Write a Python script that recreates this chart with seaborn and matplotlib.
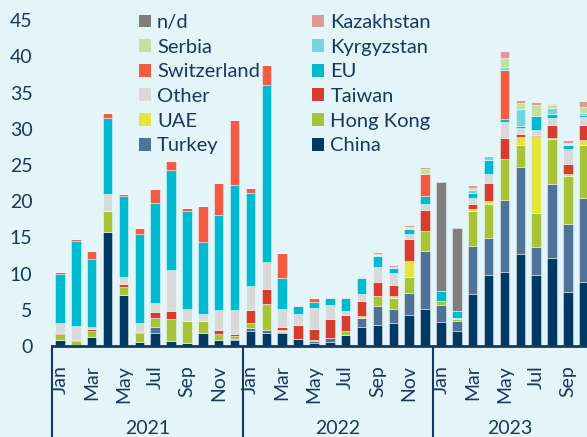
import numpy as np
import pandas as pd
import matplotlib.pyplot as plt
import seaborn as sns
from matplotlib.patches import Patch
from matplotlib.lines import Line2D

# monthly values, Jan 2021 .. Oct 2023
months = ["Jan", "Feb", "Mar", "Apr", "May", "Jun",
          "Jul", "Aug", "Sep", "Oct", "Nov", "Dec"] * 2 + \
         ["Jan", "Feb", "Mar", "Apr", "May", "Jun", "Jul", "Aug", "Sep", "Oct"]
years = ["2021", "2022", "2023"]

china = [0.87, 0.1, 1.2, 15.72, 7.1, 0.6, 1.84, 0.65, 0.46, 1.84, 0.87, 0.87,
         2.12, 1.84, 1.84, 1.01, 0.46, 0.6, 1.48, 2.63, 2.86, 3.14, 4.33, 5.12,
         3.36, 2.12, 7.23, 9.78, 10.19, 12.68, 9.82, 12.13, 7.51, 8.9]
turkey = [0, 0, 0, 0, 0, 0, 0.79, 0.1, 0, 0, 0, 0.1,
          0.41, 0.42, 0.1, 0, 0.23, 0.55, 0.1, 1.29, 2.72, 1.98, 3.04, 8.06,
          2.27, 1.38, 6.64, 5.2, 9.96, 11.98, 3.92, 10.23, 9.36, 11.5]
hong_kong = [0.83, 0.55, 0.92, 2.95, 1.06, 1.2, 1.24, 2.98, 3.0, 1.62, 0.83, 0.41,
             0.69, 3.55, 0.2, 0, 0.1, 0, 0.49, 0, 1.34, 1.56, 2.21, 2.68,
             0.55, 0.28, 4.8, 4.7, 5.71, 3.14, 4.7, 6.23, 6.55, 7.4]
uae = [0, 0, 0, 0, 0, 0, 0, 0, 0, 0, 0, 0,
       0, 0, 0.07, 0, 0, 0, 0, 0.23, 0, 0.28, 2.22, 0,
       0.1, 0.1, 0.23, 0.37, 0, 1.1, 10.51, 0.15, 0.28, 0.6]
taiwan = [0.1, 0.18, 0.18, 0, 0.42, 0.1, 0.88, 1.16, 0, 0, 0.56, 0.23,
          1.76, 2.12, 0.42, 1.85, 1.56, 2.58, 2.17, 2.12, 1.89, 1.48, 2.96, 2.94,
          0, 0, 0.74, 2.4, 2.91, 0.33, 0.15, 1.83, 1.38, 2.17]
other = [1.38, 1.89, 0.28, 2.26, 0.92, 1.28, 1.2, 5.61, 1.7, 0.97, 2.67, 3.39,
         3.27, 3.65, 2.44, 1.52, 2.91, 1.9, 0.6, 0.96, 2.07, 1.61, 0.73, 0.88,
         0, 0, 0.74, 1.3, 2.21, 0.87, 0.68, 0.93, 2.17, 1.01]
eu = [6.82, 11.78, 9.42, 10.57, 11.2, 12.32, 13.78, 13.8, 13.51, 10.0, 13.17, 17.3,
      12.82, 24.42, 4.29, 1.2, 0.83, 1.05, 1.76, 2.17, 1.52, 0.7, 0.69, 1.11,
      1.28, 1.01, 0.69, 1.93, 0.42, 0.33, 1.94, 0.5, 0.51, 0.32]
switzerland = [0.2, 0.26, 1.1, 0.7, 0.23, 0.8, 1.94, 1.2, 0.33, 4.93, 4.35, 8.87,
               0.69, 2.77, 3.46, 0, 0.59, 0, 0, 0, 0, 0, 0, 3.04,
               0, 0, 0, 0, 6.77, 0, 0, 0, 0, 0]
kyrgyzstan = [0] * 19 + [0.1, 0.15, 0.15, 0.15, 0,
                         0, 0, 0.42, 0.5, 0.33, 2.37, 0, 0.92, 0.15, 0.3]
serbia = [0] * 19 + [0.1, 0.15, 0, 0.15, 0.65,
                     0, 0, 0.27, 0, 1.3, 0.77, 1.58, 0.32, 0.1, 0.8]
kazakhstan = [0] * 15 + [0.1, 0, 0.07, 0.22, 0.1, 0.26, 0.3, 0.27, 0.28,
                         0, 0, 0.46, 0.1, 0.9, 0.43, 0.4, 0.14, 0.39, 0.85]
n_d = [0] * 24 + [15.08, 11.48] + [0] * 8

series = {
    "China": china, "Turkey": turkey, "Hong Kong": hong_kong, "UAE": uae,
    "Taiwan": taiwan, "Other": other, "EU": eu, "Switzerland": switzerland,
    "Kyrgyzstan": kyrgyzstan, "Serbia": serbia, "Kazakhstan": kazakhstan,
    "n/d": n_d,
}
colors = {
    "China": "#003A63", "Turkey": "#4E7396", "Hong Kong": "#A7C439",
    "UAE": "#E5E53F", "Taiwan": "#D53D2E", "Other": "#D9D9D9",
    "EU": "#00BBD0", "Switzerland": "#F25C43", "Kyrgyzstan": "#73D5E0",
    "Serbia": "#C4E09D", "Kazakhstan": "#DD9A97", "n/d": "#7F7F7F",
}

rows = []
for name, vals in series.items():
    for i, v in enumerate(vals):
        rows.append({"idx": i, "country": name, "value": v})
df = pd.DataFrame(rows)

bg = "#E3F5F9"
navy = "#18385C"

sns.set_theme(style="white")
plt.rcParams["font.family"] = ["Lato", "DejaVu Sans"]

fig = plt.figure(figsize=(5.87, 4.37), dpi=100, facecolor=bg)
ax = fig.add_axes([52 / 587, 91 / 437, 535 / 587, 346 / 437])
ax.set_facecolor(bg)

# histplot stacks the first hue level on top
stack_top_down = list(series.keys())[::-1]
sns.histplot(data=df, x="idx", weights="value", hue="country",
             hue_order=stack_top_down, multiple="stack", discrete=True,
             shrink=0.6, palette=colors, alpha=1, linewidth=0.5,
             edgecolor=(1, 1, 1, 0.6), legend=False, ax=ax)

ax.set_xlim(-0.5, 33.2)
ax.set_ylim(0, 47.8)
ax.set_xlabel("")
ax.set_ylabel("")
ax.set_yticks(range(0, 46, 5))
ax.tick_params(axis="y", length=0, pad=14, labelsize=14, labelcolor=navy)
ax.set_xticks(range(0, 34, 2))
ax.set_xticklabels(months[::2], rotation=90)
ax.tick_params(axis="x", length=0, pad=14, labelsize=14, labelcolor=navy)
for s in ["left", "right", "top"]:
    ax.spines[s].set_visible(False)
ax.spines["bottom"].set_color(navy)
ax.spines["bottom"].set_linewidth(2)

# year dividers and labels
for xd in [-0.5, 11.5, 23.5]:
    ax.add_line(Line2D([xd, xd], [0, -0.27], transform=ax.get_xaxis_transform(),
                       color=navy, lw=1.5, clip_on=False))
for xc, yr in zip([5.5, 17.5, 28.35], years):
    ax.text(xc, -0.237, yr, transform=ax.get_xaxis_transform(), ha="center",
            va="center", fontsize=14, color=navy)

legend_order = ["n/d", "Serbia", "Switzerland", "Other", "UAE", "Turkey",
                "Kazakhstan", "Kyrgyzstan", "EU", "Taiwan", "Hong Kong", "China"]
handles = [Patch(facecolor=colors[k], edgecolor="none", label=k) for k in legend_order]
fig.legend(handles=handles, loc="upper left", bbox_to_anchor=(139 / 587, 1 - 14 / 437),
           ncol=2, frameon=False, fontsize=14.5, labelcolor=navy,
           handlelength=0.6, handleheight=0.6, handletextpad=0.3,
           labelspacing=0.38, columnspacing=2.6, borderpad=0, borderaxespad=0)

fig.savefig("out.png", dpi=100, facecolor=bg)
